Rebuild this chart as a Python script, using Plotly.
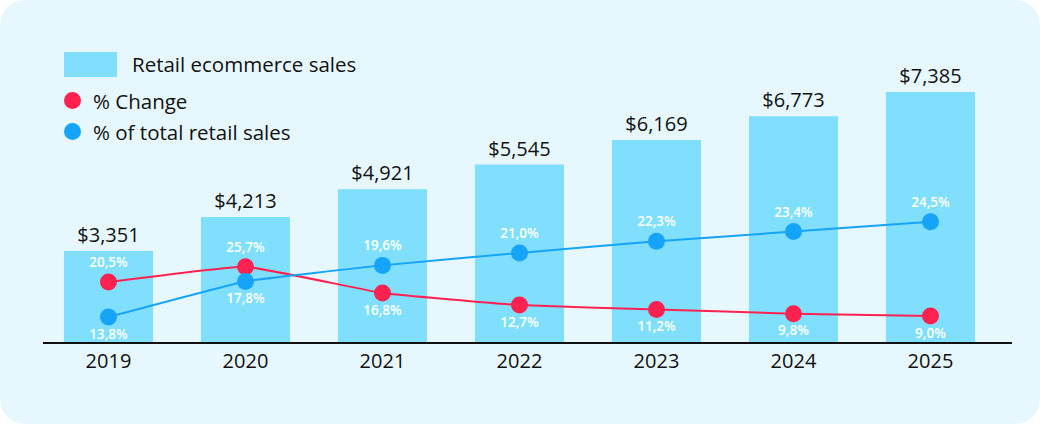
import plotly.graph_objects as go

# ---- data ----
years = ["2019", "2020", "2021", "2022", "2023", "2024", "2025"]
sales = [3351, 4213, 4921, 5545, 6169, 6773, 7385]
pct_change = [20.5, 25.7, 16.8, 12.7, 11.2, 9.8, 9.0]
pct_total = [13.8, 17.8, 19.6, 21.0, 22.3, 23.4, 24.5]

# ---- style ----
BG = "#E6F8FE"
BAR = "#7FDFFD"
RED = "#FF2150"
BLUE = "#16A4F8"
FONT = "Open Sans"
W, H = 1040, 424
L, R, T, B = 43, 28, 40, 82
PW, PH = W - L - R, H - T - B


def pct_label(v):
    return f"{v:.1f}".replace(".", ",") + "%"


red_pos = ["top center", "top center"] + ["bottom center"] * 5
blue_pos = ["bottom center", "bottom center"] + ["top center"] * 5

fig = go.Figure()
fig.add_trace(go.Bar(
    x=years, y=sales, width=0.65,
    marker=dict(color=BAR, line=dict(width=0)),
    text=[f"${v:,}" for v in sales], textposition="outside",
    outsidetextfont=dict(family=FONT, size=20, color="#111111", weight=500),
    cliponaxis=False, hoverinfo="skip",
))
fig.add_trace(go.Scatter(
    x=years, y=pct_change, yaxis="y2", mode="lines+markers+text",
    line=dict(color=RED, width=2, shape="spline", smoothing=0.3),
    marker=dict(color=RED, size=17),
    text=[pct_label(v) for v in pct_change], textposition=red_pos,
    textfont=dict(family=FONT, size=13.5, color="white", weight=600),
    cliponaxis=False,
))
fig.add_trace(go.Scatter(
    x=years, y=pct_total, yaxis="y3", mode="lines+markers+text",
    line=dict(color=BLUE, width=2, shape="spline", smoothing=0.3),
    marker=dict(color=BLUE, size=17),
    text=[pct_label(v) for v in pct_total], textposition=blue_pos,
    textfont=dict(family=FONT, size=13.5, color="white", weight=600),
    cliponaxis=False,
))


def px(x):
    return (x - L) / PW


def py(y):
    return (T + PH - y) / PH


# rounded background
rad = 28
x0, x1, y0, y1 = 0, W, 0, H
path = (
    f"M {px(x0+rad)} {py(y0)} L {px(x1-rad)} {py(y0)} Q {px(x1)} {py(y0)} {px(x1)} {py(y0+rad)} "
    f"L {px(x1)} {py(y1-rad)} Q {px(x1)} {py(y1)} {px(x1-rad)} {py(y1)} "
    f"L {px(x0+rad)} {py(y1)} Q {px(x0)} {py(y1)} {px(x0)} {py(y1-rad)} "
    f"L {px(x0)} {py(y0+rad)} Q {px(x0)} {py(y0)} {px(x0+rad)} {py(y0)} Z"
)
shapes = [dict(type="path", path=path, xref="paper", yref="paper",
               fillcolor=BG, line=dict(width=0), layer="below")]
# legend swatches
shapes.append(dict(type="rect", xref="paper", yref="paper",
                   x0=px(64), x1=px(117), y0=py(77), y1=py(52),
                   fillcolor=BAR, line=dict(width=0)))
for cy, col in [(100.5, RED), (131.5, BLUE)]:
    shapes.append(dict(type="circle", xref="paper", yref="paper",
                       x0=px(64), x1=px(81), y0=py(cy + 8.5), y1=py(cy - 8.5),
                       fillcolor=col, line=dict(width=0)))

annotations = []
for tx, ty, txt in [(130, 63.5, "Retail ecommerce sales"),
                    (91, 101, "% Change"),
                    (91, 132, "% of total retail sales")]:
    annotations.append(dict(x=px(tx), y=py(ty), xref="paper", yref="paper",
                             text=txt, showarrow=False, xanchor="left", yanchor="middle",
                             font=dict(family=FONT, size=20.5, color="#111111", weight=500)))

fig.update_layout(
    width=W, height=H,
    margin=dict(l=L, r=R, t=T, b=B),
    paper_bgcolor="white", plot_bgcolor="rgba(0,0,0,0)",
    showlegend=False, bargap=0.35,
    shapes=shapes, annotations=annotations,
    xaxis=dict(range=[-0.478, 6.595], showline=True, linecolor="#111111", linewidth=1.5,
               ticks="", showgrid=False, zeroline=False,
               tickfont=dict(family=FONT, size=20, color="#111111", weight=500)),
    yaxis=dict(range=[1042, 8705], visible=False, showgrid=False, zeroline=False),
    yaxis2=dict(range=[0.186, 102.56], overlaying="y", visible=False, showgrid=False, zeroline=False),
    yaxis3=dict(range=[10.991, 44.924], overlaying="y", visible=False, showgrid=False, zeroline=False),
    font=dict(family=FONT),
)

fig.write_html("out.html", config={"displayModeBar": False},
               post_script="document.body.style.margin='0';document.body.style.overflow='hidden';")
